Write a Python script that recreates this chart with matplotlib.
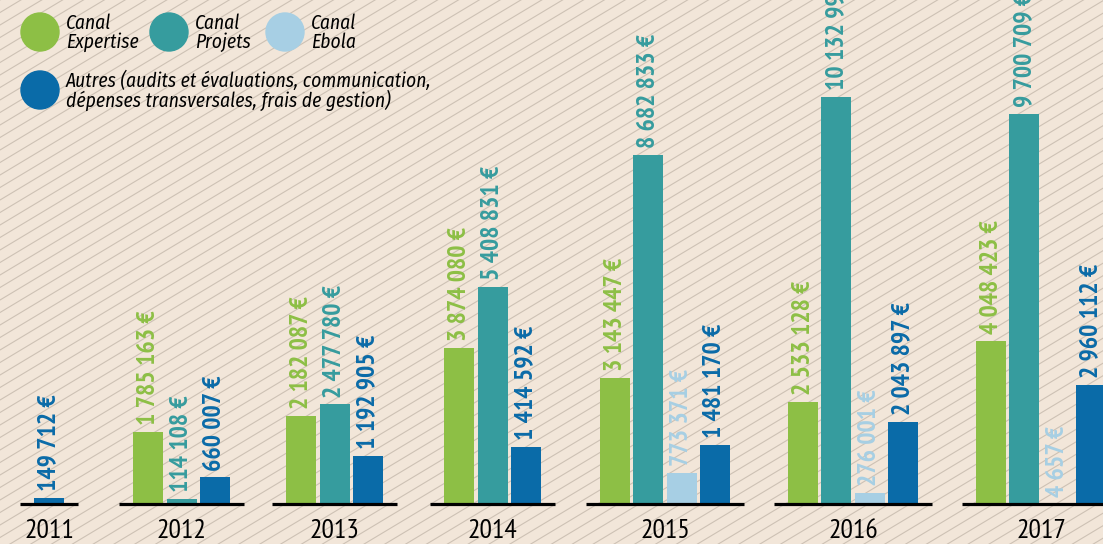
import numpy as np
import matplotlib
matplotlib.use("Agg")
import matplotlib.pyplot as plt
from matplotlib.patches import Circle

# budget par canal et par année (euros)
years = ["2011", "2012", "2013", "2014", "2015", "2016", "2017"]
expertise = [None, 1785163, 2182087, 3874080, 3143447, 2533128, 4048423]
projets = [None, 114108, 2477780, 5408831, 8682833, 10132990, 9700709]
ebola = [None, None, None, None, 773371, 276001, 4657]
autres = [149712, 660007, 1192905, 1414592, 1481170, 2043897, 2960112]

series = [expertise, projets, ebola, autres]
colors = ["#8dbf45", "#369c9e", "#a7cfe4", "#0a6ba8"]
legend_txt = ["Canal\nExpertise", "Canal\nProjets", "Canal\nEbola",
              "Autres (audits et évaluations, communication,\ndépenses transversales, frais de gestion)"]

# centre de chaque groupe (en pixels) et largeur des barres
centers = [49, 181.5, 334.5, 492.5, 665, 853, 1041]
pitch = 33.3
bw = 30

W, H = 1103, 544
base_px = 504
narrow = ["PT Sans Narrow", "Fira Sans Condensed", "DejaVu Sans"]
italic_font = ["Fira Sans Condensed", "DejaVu Sans"]

def fmt(v):
    return "{:,}".format(v).replace(",", " ") + " €"

fig = plt.figure(figsize=(W / 100, H / 100), dpi=100)

# fond beige hachuré
bg = fig.add_axes([0, 0, 1, 1], zorder=0)
bg.set_xlim(0, W)
bg.set_ylim(H, 0)
bg.set_facecolor("#f2e6d9")
bg.axis("off")
fig.patch.set_facecolor("#f2e6d9")
slope = 0.6
for c in np.arange(0, H + slope * W + 12, 12.5):
    bg.plot([0, W], [c, c - slope * W], color="#cdc1b4", lw=0.8, zorder=0)

# legende
leg_pos = [(40, 32), (169, 32), (285, 32), (40, 90)]
for (cx, cy), col, txt in zip(leg_pos, colors, legend_txt):
    bg.add_patch(Circle((cx, cy), 19, color=col, zorder=2))
    bg.text(cx + 26, cy + 1, txt, fontsize=14, style="italic", va="center",
            ha="left", linespacing=0.95, family=italic_font, zorder=2)

# barres
ax = fig.add_axes([0, (H - base_px) / H, 1, base_px / H], zorder=1)
ax.patch.set_alpha(0)
ax.set_xlim(0, W)
ymax = base_px / 407 * 10132990
ax.set_ylim(0, ymax)
for s in ax.spines.values():
    s.set_visible(False)
ax.set_yticks([])

for i, c in enumerate(centers):
    present = [k for k in range(4) if series[k][i] is not None]
    n = len(present)
    offs = (np.arange(n) - (n - 1) / 2) * pitch
    for k, o in zip(present, offs):
        v = series[k][i]
        ax.bar(c + o, v, width=bw, color=colors[k], zorder=2)
        ax.annotate(fmt(v), (c + o, v), xytext=(0, 5), textcoords="offset points",
                    rotation=90, ha="center", va="bottom", fontsize=18.5,
                    fontweight="bold", color=colors[k], family=narrow,
                    annotation_clip=False)
    half = (n - 1) / 2 * pitch + bw / 2 + 14
    ax.plot([c - half, c + half], [0, 0], color="black", lw=2.3,
            solid_capstyle="butt", zorder=3, clip_on=False)

ax.set_xticks(centers)
ax.set_xticklabels(years, fontsize=20, family=narrow)
ax.tick_params(axis="x", length=0, pad=11)

fig.savefig("out.png", dpi=100, facecolor=fig.get_facecolor())
